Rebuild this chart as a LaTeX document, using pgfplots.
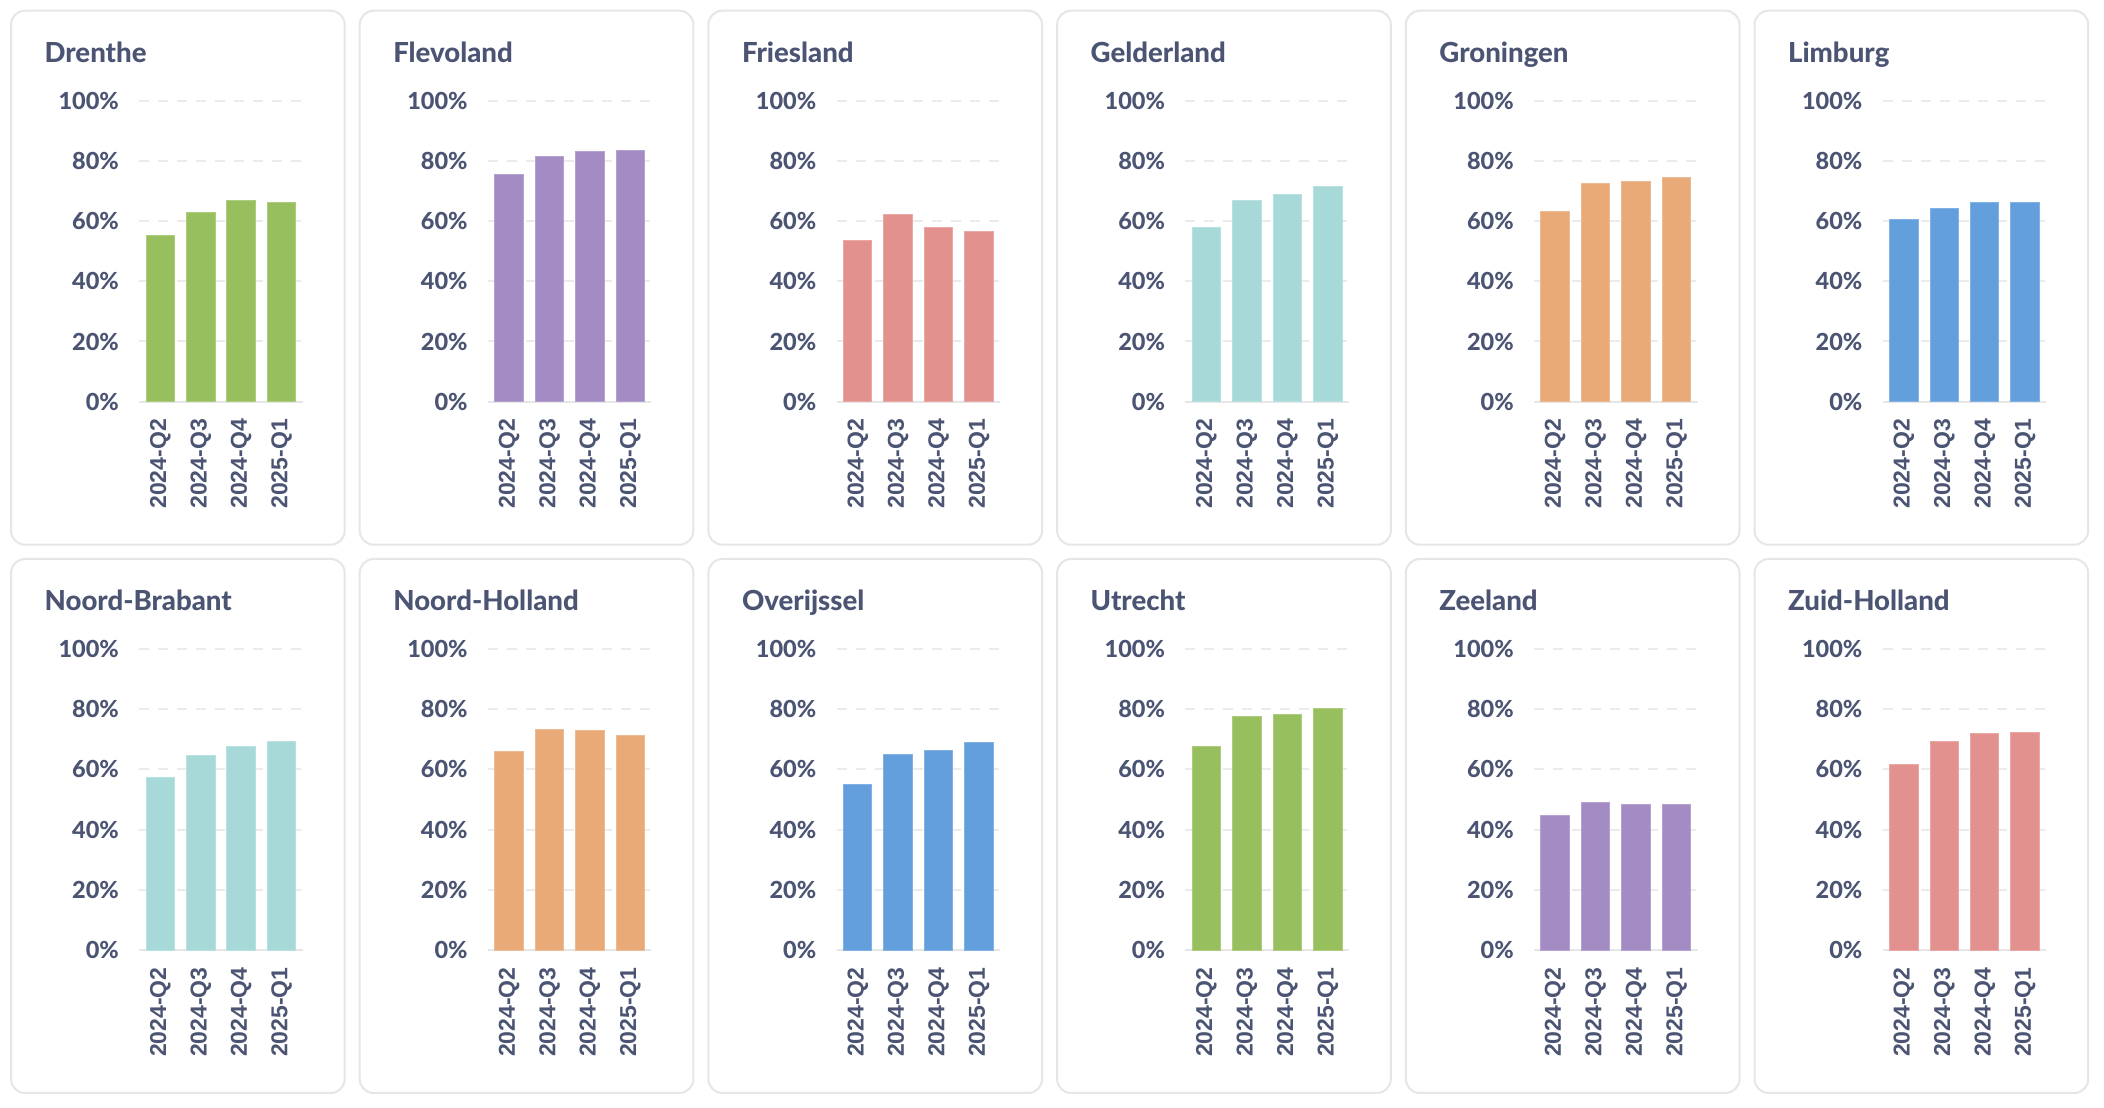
\documentclass[border=0pt]{standalone}
\usepackage{pgfplots}
\pgfplotsset{compat=1.18}
\usepackage{fontspec}
\setmainfont{Lato}
\newfontfamily\xfam{Liberation Sans}
\newfontfamily\heavyfam{Lato Heavy}
\definecolor{txt}{HTML}{4B5473}
\definecolor{panelborder}{HTML}{E6E6E8}
\definecolor{gridgray}{HTML}{EBEBEB}
\definecolor{basegray}{HTML}{E6E6E6}
\definecolor{cgreen}{HTML}{98BF5D}
\definecolor{cpurple}{HTML}{A38BC4}
\definecolor{cpink}{HTML}{E3918E}
\definecolor{cteal}{HTML}{A7D9D8}
\definecolor{corange}{HTML}{E9AA78}
\definecolor{cblue}{HTML}{639FDD}
\newcommand\titlef{\heavyfam\fontsize{13.8}{16}\selectfont}
\newcommand\ytf{\heavyfam\fontsize{11.75}{14}\selectfont}
\newcommand\xtf{\xfam\fontsize{11.5}{14}\selectfont\bfseries}
\pgfplotsset{panel axis/.style={
  scale only axis, width=81.7pt, height=150.5pt,
  ybar, bar width=14.25pt,
  xmin=-0.52, xmax=3.52, ymin=0, ymax=100,
  xtick={0,1,2,3}, xticklabels={2024-Q2,2024-Q3,2024-Q4,2025-Q1},
  ytick={0,20,40,60,80,100},
  yticklabel={\pgfmathprintnumber[assume math mode=true]{\tick}\%},
  axis x line*=bottom, axis y line*=left,
  x axis line style={draw=basegray, line width=1pt, -},
  y axis line style={draw=none},
  major tick length=0pt,
  tick style={draw=none},
  ymajorgrids, grid style={draw=gridgray, line width=1pt, dash pattern=on 5pt off 4.5pt},
  yticklabel style={font=\ytf, text=txt, anchor=east, inner sep=0pt},
  xticklabel style={font=\xtf, text=txt, rotate=90, anchor=east, inner sep=0pt},
  xticklabel shift=8.5pt, yticklabel shift=10pt,
  clip=false,
}}
\newcommand{\panel}[5]{%
  \pgfmathsetmacro{\panL}{5.5+174.35*#1}%
  \pgfmathsetmacro{\panT}{554-5.35-274.15*#2}%
  \draw[panelborder, line width=1pt, rounded corners=7pt] (\panL pt,\panT pt) rectangle ++(166.85pt,-267pt);
  \node[anchor=base west, font=\titlef, text=txt, inner sep=0pt] at (\panL pt+16.6pt, \panT pt-25.8pt) {#3};
  \begin{axis}[panel axis, at={(\panL pt+64.15pt, \panT pt-195.5pt)}, anchor=south west]
    \addplot[fill=#4, draw=#4!80!white, line width=0.5pt] coordinates {#5};
  \end{axis}
}
\begin{document}
\begin{tikzpicture}
\fill[white] (0,0) rectangle (1052pt,554pt);
\path[use as bounding box] (0,0) rectangle (1052pt,554pt);
\panel{0}{0}{Drenthe}{cgreen}{(0,55.1) (1,63.0) (2,67.0) (3,66.2)}
\panel{1}{0}{Flevoland}{cpurple}{(0,75.6) (1,81.3) (2,83.2) (3,83.4)}
\panel{2}{0}{Friesland}{cpink}{(0,53.7) (1,62.1) (2,57.9) (3,56.5)}
\panel{3}{0}{Gelderland}{cteal}{(0,57.9) (1,66.7) (2,68.8) (3,71.5)}
\panel{4}{0}{Groningen}{corange}{(0,63.2) (1,72.5) (2,73.3) (3,74.5)}
\panel{5}{0}{Limburg}{cblue}{(0,60.4) (1,64.2) (2,66.2) (3,66.3)}
\panel{0}{1}{Noord-Brabant}{cteal}{(0,57.2) (1,64.6) (2,67.6) (3,69.3)}
\panel{1}{1}{Noord-Holland}{corange}{(0,65.8) (1,73.2) (2,72.8) (3,71.3)}
\panel{2}{1}{Overijssel}{cblue}{(0,55.0) (1,64.9) (2,66.3) (3,69.0)}
\panel{3}{1}{Utrecht}{cgreen}{(0,67.6) (1,77.6) (2,78.1) (3,80.1)}
\panel{4}{1}{Zeeland}{cpurple}{(0,44.6) (1,48.9) (2,48.5) (3,48.5)}
\panel{5}{1}{Zuid-Holland}{cpink}{(0,61.6) (1,69.3) (2,71.9) (3,72.1)}
\end{tikzpicture}
\end{document}
